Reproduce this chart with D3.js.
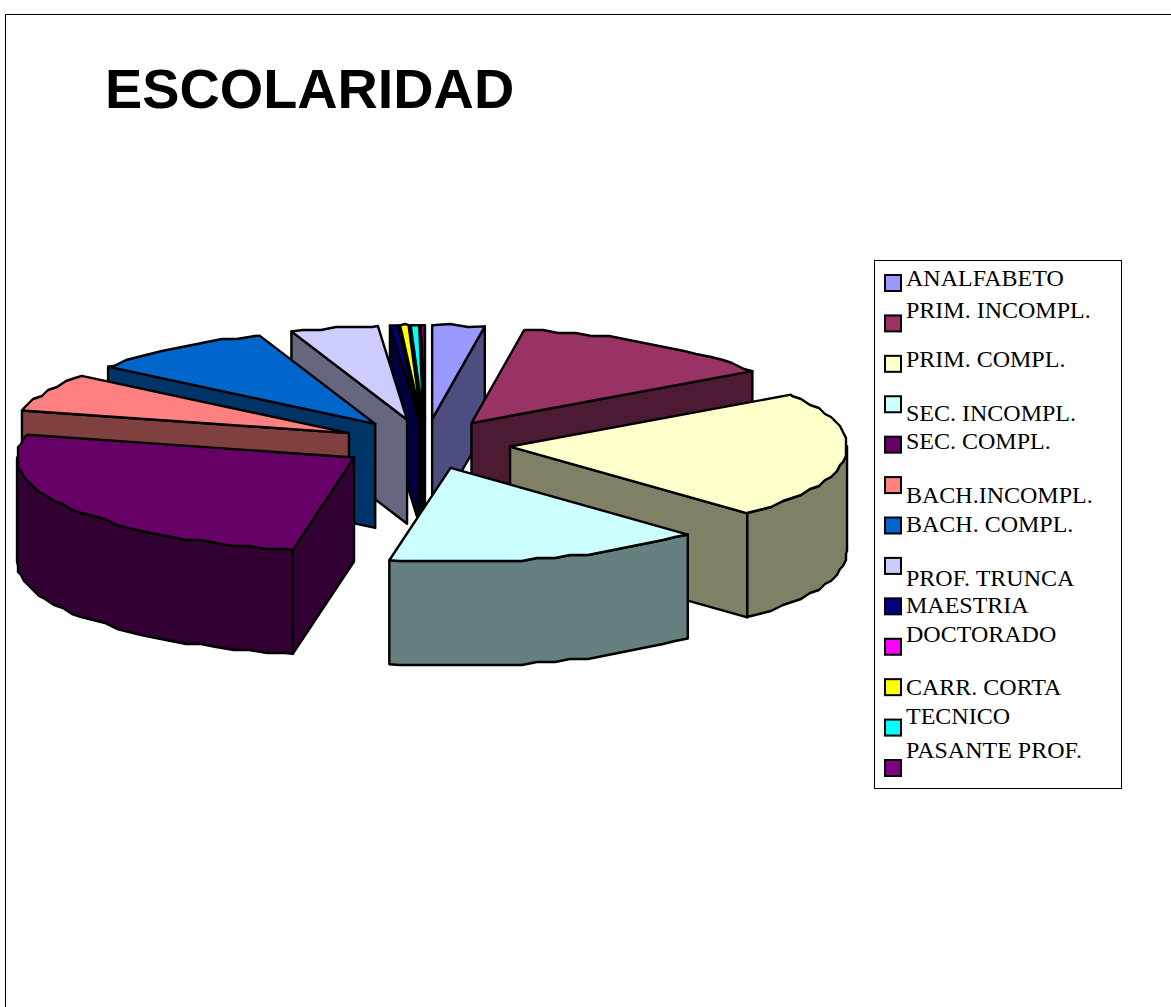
<!doctype html>
<html>
<head>
    <meta charset="utf-8">
    <script src="https://d3js.org/d3.v7.min.js"></script>
    <style>
        html, body { margin: 0; padding: 0; background: #fff; }
        svg { display: block; }
    </style>
</head>
<body>
<svg id="chart"></svg>

<script>

    // data (share of each slice, clockwise from 12 o'clock)
    var categories = ["ANALFABETO", "PRIM. INCOMPL.", "PRIM. COMPL.", "SEC. INCOMPL.", "SEC. COMPL.",
        "BACH.INCOMPL.", "BACH. COMPL.", "PROF. TRUNCA", "MAESTRIA", "DOCTORADO",
        "CARR. CORTA", "TECNICO", "PASANTE PROF."];
    var shares = [2.5, 13.2, 21.9, 15.35, 26, 6.55, 9.0, 4.2, 0.35, 0.03, 0.4, 0.4, 0.2];
    var colors = ["#9999FF", "#993366", "#FFFFCC", "#CCFFFF", "#660066",
        "#FF8080", "#0066CC", "#CCCCFF", "#000080", "#FF00FF",
        "#FFFF00", "#00FFFF", "#800080"];

    // the legend text is not aligned with its keys in the original
    var legendNudge = [3, -5, 3, 17, 4, 18, 6, 20, 7, -5, 8, -4, -10];

    var width = 1171, height = 1007;
    var cx = 425.5, cy = 444,      // pie centre before exploding
        rx = 337, ry = 94,         // top ellipse
        depth = 104,               // height of the walls
        explode = 85;              // radial offset of every slice
    var grid = 3, stepDeg = 3;     // coarse rim, like the old metafile render

    var svg = d3.select("#chart").attr("width", width).attr("height", height);

    // frame, open at right and bottom
    svg.append("path")
        .attr("d", "M5.5," + height + "V14.5H" + width)
        .attr("fill", "none")
        .attr("stroke", "#000")
        .attr("stroke-width", 1);

    svg.append("text")
        .attr("x", 105)
        .attr("y", 108)
        .attr("font-family", "Liberation Sans")
        .attr("font-weight", "bold")
        .attr("font-size", 55.8)
        .attr("fill", "#000")
        .text("ESCOLARIDAD");

    var arcs = d3.pie().sort(null).value(function (d) { return d; })(shares);

    function halfTone(c) {
        var rgb = d3.rgb(c);
        return d3.rgb(rgb.r / 2, rgb.g / 2, rgb.b / 2).formatHex();
    }

    // angle (clockwise from top) on the ellipse, relative to the slice apex
    function rim(apex, a) {
        return [apex[0] + rx * Math.sin(a), apex[1] - ry * Math.cos(a)];
    }

    // sampled at fixed angles, so top face and outer wall share the same corners
    function rimPoints(apex, a0, a1) {
        var step = stepDeg * Math.PI / 180;
        var pts = [rim(apex, a0)];
        for (var k = Math.floor(a0 / step) + 1; k * step < a1 - 1e-6; k++) {
            var p = rim(apex, k * step);
            pts.push([Math.round(p[0] / grid) * grid, Math.round(p[1] / grid) * grid]);
        }
        pts.push(rim(apex, a1));
        return pts;
    }

    function down(p) { return [p[0], p[1] + depth]; }

    var line = d3.line().curve(d3.curveLinearClosed);

    var slices = arcs.map(function (d, i) {
        var mid = (d.startAngle + d.endAngle) / 2;
        return {
            i: i,
            a0: d.startAngle,
            a1: d.endAngle,
            mid: mid,
            apex: [cx + explode * Math.sin(mid), cy - explode * Math.cos(mid) * ry / rx * 1.05]
        };
    });

    // paint from back to front
    slices.sort(function (a, b) { return d3.descending(Math.cos(a.mid), Math.cos(b.mid)); });

    var groups = svg.selectAll("g.slice")
        .data(slices)
        .enter().append("g")
        .attr("class", "slice")
        .attr("stroke", "#000")
        .attr("stroke-width", 2.4)
        .attr("stroke-linejoin", "round");

    groups.each(function (d) {
        var g = d3.select(this);
        var top = colors[d.i], side = halfTone(top);

        function wall(pts) {
            var back = pts.map(down).reverse();
            g.append("path").attr("d", line(pts.concat(back))).attr("fill", side);
        }

        // flat cut faces, only the ones turned to the viewer
        if (Math.sin(d.a0) < 0) wall([d.apex, rim(d.apex, d.a0)]);
        if (Math.sin(d.a1) > 0) wall([d.apex, rim(d.apex, d.a1)]);

        // outer wall, the front half of the rim
        var from = Math.max(d.a0, Math.PI / 2), to = Math.min(d.a1, 3 * Math.PI / 2);
        if (to > from) wall(rimPoints(d.apex, from, to));

        g.append("path")
            .attr("d", line([d.apex].concat(rimPoints(d.apex, d.a0, d.a1))))
            .attr("fill", top);
    });

    // legend
    var legendY = d3.scalePoint().domain(categories).range([283, 768]);

    svg.append("rect")
        .attr("x", 874.5)
        .attr("y", 260.5)
        .attr("width", 247)
        .attr("height", 528)
        .attr("fill", "#fff")
        .attr("stroke", "#000")
        .attr("stroke-width", 1);

    var items = svg.selectAll("g.key")
        .data(categories)
        .enter().append("g")
        .attr("class", "key");

    items.append("rect")
        .attr("x", 885)
        .attr("y", function (d) { return legendY(d) - 8; })
        .attr("width", 16)
        .attr("height", 16)
        .attr("fill", function (d, i) { return colors[i]; })
        .attr("stroke", "#000")
        .attr("stroke-width", 2);

    items.append("text")
        .attr("x", 906)
        .attr("y", function (d, i) { return legendY(d) + legendNudge[i]; })
        .attr("font-family", "Liberation Serif")
        .attr("font-size", 24)
        .attr("fill", "#000")
        .text(function (d) { return d; });

</script>
</body>
</html>
